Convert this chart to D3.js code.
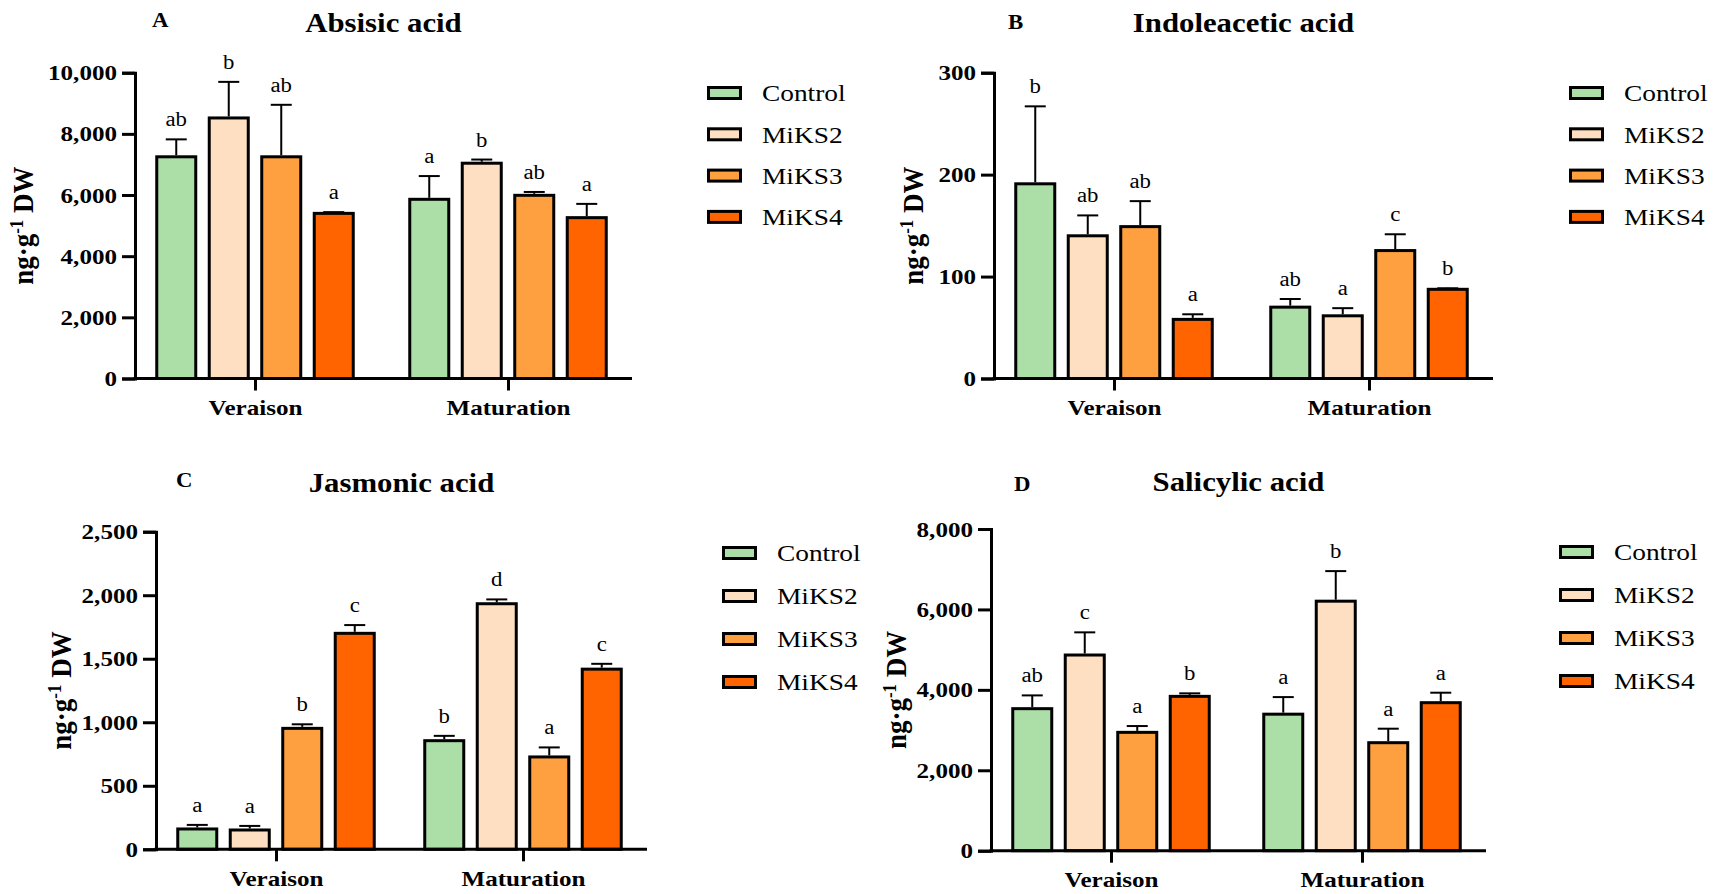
<!DOCTYPE html>
<html>
<head>
<meta charset="utf-8">
<script src="https://cdn.jsdelivr.net/npm/d3@7"></script>
<style>
body { margin: 0; background: #fff; }
text { font-family: "Liberation Serif", "Times New Roman", serif; fill: #000; }
</style>
</head>
<body>
<svg id="chart" width="1713" height="894"></svg>
<script>
// categories
var stages = ['Veraison', 'Maturation'];
var treatments = ['Control', 'MiKS2', 'MiKS3', 'MiKS4'];
var colors = ['#acdea8', '#ffdfc1', '#ffa040', '#ff6400'];

// Absisic acid (rows = stages, cols = treatments)
var abaMean = [[7250, 8520, 7250, 5400], [5860, 7040, 5990, 5260]];
var abaSd = [[570, 1180, 1700, 40], [760, 120, 110, 450]];
var abaSig = [['ab', 'b', 'ab', 'a'], ['a', 'b', 'ab', 'a']];
var abaTicks = [0, 2000, 4000, 6000, 8000, 10000];

// Indoleacetic acid
var iaaMean = [[191, 140, 149, 58], [70, 61.5, 125.5, 87.5]];
var iaaSd = [[76, 20, 25, 5], [8, 7.5, 16, 1]];
var iaaSig = [['b', 'ab', 'ab', 'a'], ['ab', 'a', 'c', 'b']];
var iaaTicks = [0, 100, 200, 300];

// Jasmonic acid
var jaMean = [[160, 152, 952, 1700], [855, 1933, 727, 1418]];
var jaSd = [[32, 32, 32, 65], [38, 34, 75, 42]];
var jaSig = [['a', 'a', 'b', 'c'], ['b', 'd', 'a', 'c']];
var jaTicks = [0, 500, 1000, 1500, 2000, 2500];

// Salicylic acid
var saMean = [[3532, 4866, 2943, 3838], [3395, 6205, 2686, 3681]];
var saSd = [[330, 564, 157, 75], [425, 748, 348, 248]];
var saSig = [['ab', 'c', 'a', 'b'], ['a', 'b', 'a', 'a']];
var saTicks = [0, 2000, 4000, 6000, 8000];

var STRETCH = 1.14;

var panels = [
	{ key: 'A', title: 'Absisic acid', mean: abaMean, sd: abaSd, sig: abaSig, ticks: abaTicks,
	  x0: 135, x1: 632, top: 72.7, bottom: 378.5, keyX: 152, keyY: 27, titleY: 32, labelX: 33, legX: 707, legY: 93, legStep: 41.3 },
	{ key: 'B', title: 'Indoleacetic acid', mean: iaaMean, sd: iaaSd, sig: iaaSig, ticks: iaaTicks,
	  x0: 994, x1: 1493, top: 72.7, bottom: 378.5, keyX: 1008, keyY: 29, titleY: 32, labelX: 923, legX: 1569, legY: 93, legStep: 41.3 },
	{ key: 'C', title: 'Jasmonic acid', mean: jaMean, sd: jaSd, sig: jaSig, ticks: jaTicks,
	  x0: 156, x1: 647, top: 531.7, bottom: 849.3, keyX: 176, keyY: 487, titleY: 492, labelX: 71, legX: 722, legY: 553, legStep: 43 },
	{ key: 'D', title: 'Salicylic acid', mean: saMean, sd: saSd, sig: saSig, ticks: saTicks,
	  x0: 991, x1: 1486, top: 529, bottom: 850.7, keyX: 1014, keyY: 491, titleY: 491, labelX: 906, legX: 1559, legY: 552, legStep: 43 }
];

var svg = d3.select('#chart');
svg.append('rect').attr('width', 1713).attr('height', 894).attr('fill', '#fff');

var color = d3.scaleOrdinal().domain(treatments).range(colors);

function drawPanel(p) {
	var g = svg.append('g');

	var y = d3.scaleLinear().domain([0, d3.max(p.ticks)]).range([p.bottom, p.top]);
	var xStage = d3.scalePoint().domain(stages).range([p.x0 + 120, p.x1 - 124]);
	var xTrt = d3.scaleBand().domain(treatments).range([-98.25, 98.25]).paddingInner(0.257);

	var rows = [];
	stages.forEach(function(s, i) {
		treatments.forEach(function(t, j) {
			rows.push({ stage: s, trt: t, mean: p.mean[i][j], sd: p.sd[i][j], sig: p.sig[i][j] });
		});
	});
	function cx(d) { return xStage(d.stage) + xTrt(d.trt) + xTrt.bandwidth() / 2; }

	// bars
	g.selectAll('.bar').data(rows).enter().append('rect')
		.attr('class', 'bar')
		.attr('x', function(d) { return xStage(d.stage) + xTrt(d.trt); })
		.attr('y', function(d) { return y(d.mean); })
		.attr('width', xTrt.bandwidth())
		.attr('height', function(d) { return y(0) - y(d.mean); })
		.attr('fill', function(d) { return color(d.trt); })
		.attr('stroke', '#000')
		.attr('stroke-width', 3);

	// upper error bars
	var err = g.selectAll('.err').data(rows).enter().append('g').attr('class', 'err');
	err.append('line')
		.attr('x1', cx).attr('x2', cx)
		.attr('y1', function(d) { return y(d.mean) - 1.5; })
		.attr('y2', function(d) { return y(d.mean + d.sd); })
		.attr('stroke', '#000').attr('stroke-width', 2);
	err.append('line')
		.attr('x1', function(d) { return cx(d) - 10.5; })
		.attr('x2', function(d) { return cx(d) + 10.5; })
		.attr('y1', function(d) { return y(d.mean + d.sd); })
		.attr('y2', function(d) { return y(d.mean + d.sd); })
		.attr('stroke', '#000').attr('stroke-width', 2);

	// significance letters
	g.selectAll('.sig').data(rows).enter().append('text')
		.attr('class', 'sig stretch')
		.attr('x', cx)
		.attr('y', function(d) { return y(d.mean + d.sd) - 13; })
		.attr('text-anchor', 'middle')
		.style('font-size', '20px')
		.text(function(d) { return d.sig; });

	// y axis
	var yAxis = g.append('g')
		.attr('transform', 'translate(' + p.x0 + ',0)')
		.call(d3.axisLeft(y).tickValues(p.ticks).tickFormat(d3.format(','))
			.tickSizeOuter(0).tickSize(13).tickPadding(5));
	yAxis.select('.domain').attr('stroke-width', 3);
	yAxis.selectAll('.tick line').attr('stroke-width', 3);
	yAxis.selectAll('.tick text').attr('class', 'stretch')
		.style('font-size', '22px').style('font-weight', 'bold');

	// x axis
	var xAxis = g.append('g')
		.attr('transform', 'translate(0,' + y(0) + ')')
		.call(d3.axisBottom(xStage).tickSize(12).tickPadding(9));
	xAxis.select('.domain').remove();
	xAxis.selectAll('.tick line').attr('stroke-width', 3);
	xAxis.selectAll('.tick text').attr('class', 'stretch')
		.style('font-size', '22px').style('font-weight', 'bold');
	g.append('line')
		.attr('x1', p.x0 - 1.5).attr('x2', p.x1)
		.attr('y1', y(0)).attr('y2', y(0))
		.attr('stroke', '#000').attr('stroke-width', 3);

	// titles
	g.append('text').attr('class', 'stretch')
		.attr('x', (p.x0 + p.x1) / 2).attr('y', p.titleY)
		.attr('text-anchor', 'middle')
		.style('font-size', '27px').style('font-weight', 'bold')
		.text(p.title);
	g.append('text').attr('class', 'stretch')
		.attr('x', p.keyX).attr('y', p.keyY)
		.style('font-size', '20px').style('font-weight', 'bold')
		.text(p.key);

	// y label
	var lab = g.append('text')
		.attr('transform', 'translate(' + p.labelX + ',' + (p.top + p.bottom) / 2 + ') scale(1.1,1) rotate(-90)')
		.attr('text-anchor', 'middle')
		.style('font-size', '27px').style('font-weight', 'bold');
	lab.append('tspan').text('ng\u00b7g');
	lab.append('tspan').attr('baseline-shift', 'super').style('font-size', '17px').text('-1');
	lab.append('tspan').text(' DW');

	// legend
	var leg = g.selectAll('.leg').data(treatments).enter().append('g')
		.attr('class', 'leg')
		.attr('transform', function(d, i) { return 'translate(' + p.legX + ',' + (p.legY + i * p.legStep) + ')'; });
	leg.append('rect')
		.attr('x', 1.5).attr('y', -5.5)
		.attr('width', 32).attr('height', 11)
		.attr('fill', function(d) { return color(d); })
		.attr('stroke', '#000').attr('stroke-width', 3);
	leg.append('text').attr('class', 'stretch')
		.attr('x', 55).attr('dy', '0.35em')
		.style('font-size', '24px')
		.text(function(d) { return d; });
}

panels.forEach(drawPanel);

// the source figure's lettering is a little wider than plain Times
svg.selectAll('text.stretch').each(function() {
	var L = this.getComputedTextLength();
	this.setAttribute('textLength', L * STRETCH);
	this.setAttribute('lengthAdjust', 'spacingAndGlyphs');
});
</script>
</body>
</html>
